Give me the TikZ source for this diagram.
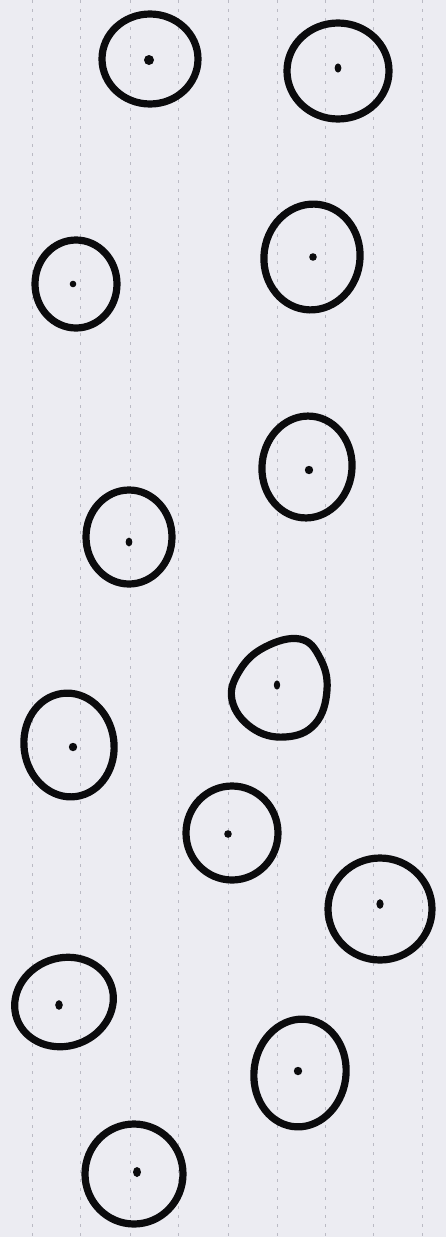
\documentclass[tikz,border=0pt]{standalone}
\begin{document}
\begin{tikzpicture}[x=1pt,y=-1pt,
  ink/.style={draw=inkcol,line width=7.2pt},
  dotfill/.style={fill=inkcol},
  rule/.style={draw=rulecol,line width=0.9pt,dash pattern=on 3pt off 6pt}]
\definecolor{inkcol}{HTML}{0B0B0D}
\definecolor{rulecol}{HTML}{BABAC4}
\definecolor{paper}{HTML}{ECECF2}
\fill[paper] (0,0) rectangle (446,1237);
\useasboundingbox (0,0) rectangle (446,1237);
% faint dashed rules of the paper
\foreach \xx in {32,80,130,178,228,277,325,373,422}
  \draw[rule] (\xx,0) -- (\xx,1237);
% circle centres
\coordinate (c1) at (150,59);
\coordinate (c2) at (338,71);
\coordinate (c3) at (76,284);
\coordinate (c4) at (312,257);
\coordinate (c5) at (307,467);
\coordinate (c6) at (129,537);
\coordinate (c8) at (69,745);
\coordinate (c9) at (232,833);
\coordinate (c10) at (380,909);
\coordinate (c11) at (64,1002);
\coordinate (c12) at (300,1073);
\coordinate (c13) at (134,1174);
% rings
\draw[ink] (c1) ellipse [x radius=48pt, y radius=45pt];
\draw[ink] (c2) ellipse [x radius=51pt, y radius=48pt];
\draw[ink] (c3) ellipse [x radius=41pt, y radius=44pt];
\draw[ink,rotate around={-8:(c4)}] (c4) ellipse [x radius=48pt, y radius=53pt];
\draw[ink,rotate around={-6:(c5)}] (c5) ellipse [x radius=45pt, y radius=51pt];
\draw[ink] (c6) ellipse [x radius=43pt, y radius=47pt];
\draw[ink] plot[smooth cycle,tension=0.7] coordinates
  {(300,639) (320,658) (327,690) (315,724) (285,737) (252,728) (232,700) (240,670) (265,647)};
\draw[ink,rotate around={8:(c8)}] (c8) ellipse [x radius=45pt, y radius=52pt];
\draw[ink] (c9) ellipse [x radius=46pt, y radius=47pt];
\draw[ink] (c10) ellipse [x radius=52pt, y radius=51pt];
\draw[ink,rotate around={20:(c11)}] (c11) ellipse [x radius=50pt, y radius=44pt];
\draw[ink,rotate around={-8:(c12)}] (c12) ellipse [x radius=46pt, y radius=54pt];
\draw[ink] (c13) ellipse [x radius=49pt, y radius=50pt];
% centre dots
\fill[dotfill] (149,60) circle [radius=5pt];
\fill[dotfill] (338,68) ellipse [x radius=3.4pt, y radius=4.6pt];
\fill[dotfill] (73,284) circle [radius=3.3pt];
\fill[dotfill] (313,257) circle [radius=3.8pt];
\fill[dotfill] (309,470) circle [radius=4.2pt];
\fill[dotfill] (129,542) ellipse [x radius=3.4pt, y radius=4.4pt];
\fill[dotfill] (277,685) ellipse [x radius=3.2pt, y radius=4.6pt];
\fill[dotfill] (73,747) circle [radius=4.2pt];
\fill[dotfill] (228,834) circle [radius=3.8pt];
\fill[dotfill] (380,904) ellipse [x radius=3.6pt, y radius=4.8pt];
\fill[dotfill] (59,1005) ellipse [x radius=3.8pt, y radius=4.8pt];
\fill[dotfill] (298,1071) circle [radius=4.2pt];
\fill[dotfill] (137,1172) ellipse [x radius=4pt, y radius=5pt];
\end{tikzpicture}
\end{document}
